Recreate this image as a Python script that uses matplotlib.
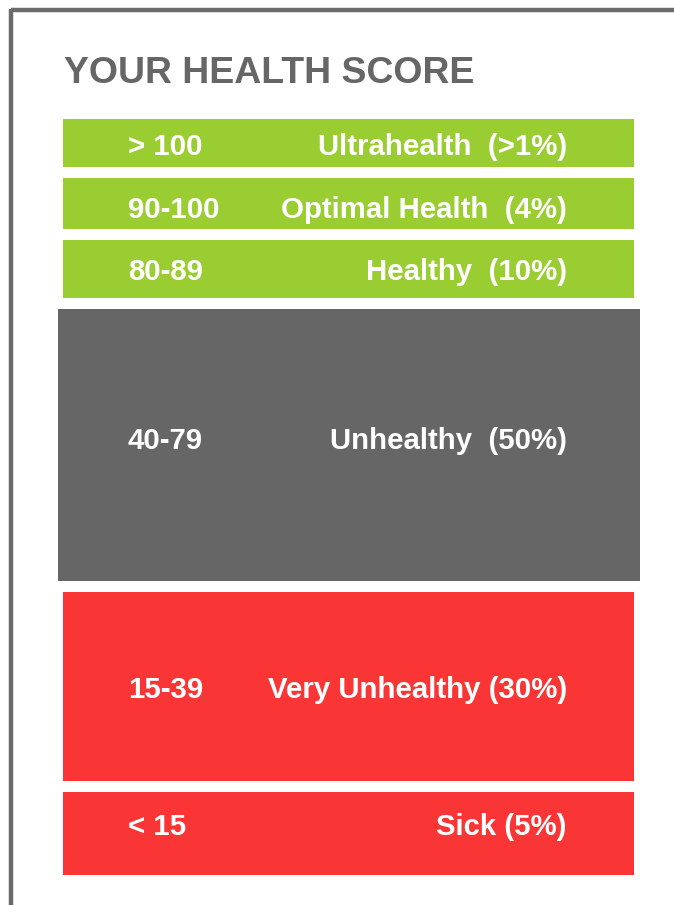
import matplotlib.pyplot as plt
from matplotlib.patches import Rectangle

# health score bands, top to bottom
score_ranges = ['> 100', '90-100', '80-89', '40-79', '15-39', '< 15']
categories = ['Ultrahealth  (>1%)', 'Optimal Health  (4%)', 'Healthy  (10%)',
              'Unhealthy  (50%)', 'Very Unhealthy (30%)', 'Sick (5%)']
colors = ['#9acd32', '#9acd32', '#9acd32', '#666666', '#f93535', '#f93535']

# layout in pixels (y grows downward)
box_left = [63, 63, 63, 58, 63, 63]
box_right = [634, 634, 634, 640, 634, 634]
box_top = [119, 178, 240, 309, 592, 792]
box_bottom = [167, 229, 298, 581, 781, 875]
text_base = [155, 218, 280, 449, 698, 835]

W, H = 674, 905
fig = plt.figure(figsize=(W / 100, H / 100), dpi=100)
ax = fig.add_axes([0, 0, 1, 1])
ax.set_xlim(0, W)
ax.set_ylim(H, 0)
ax.axis('off')

font = 'Liberation Sans'

# frame on the top and left
ax.plot([10.5, W], [10.5, 10.5], color='#6b6b6b', lw=3.2, solid_capstyle='butt')
ax.plot([10.5, 10.5], [9, H], color='#6b6b6b', lw=3.2, solid_capstyle='butt')

ax.text(64, 83, 'YOUR HEALTH SCORE', color='#666666', fontsize=26.9,
        fontweight='bold', family=font, ha='left', va='baseline')

for i in range(len(categories)):
    ax.add_patch(Rectangle((box_left[i], box_top[i]), box_right[i] - box_left[i],
                           box_bottom[i] - box_top[i], color=colors[i], lw=0))
    ax.text(128, text_base[i], score_ranges[i], color='white', fontsize=21.2,
            fontweight='bold', family=font, ha='left', va='baseline')
    ax.text(567, text_base[i], categories[i], color='white', fontsize=21.2,
            fontweight='bold', family=font, ha='right', va='baseline')

fig.savefig('out.png', dpi=100)
